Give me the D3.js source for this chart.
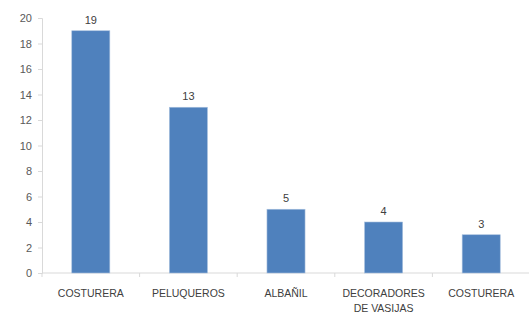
<!DOCTYPE html>
<meta charset="utf-8">
<script src="https://d3js.org/d3.v7.min.js"></script>
<style>
  body { margin: 0; background: #fff; }
  text { font-family: "Liberation Sans", Arial, sans-serif; }
</style>
<div id="chart"></div>
<script>
// data
var categories = ["COSTURERA", "PELUQUEROS", "ALBAÑIL", "DECORADORES|DE VASIJAS", "COSTURERA "];
var values = [19, 13, 5, 4, 3];
var yTicks = [0, 2, 4, 6, 8, 10, 12, 14, 16, 18, 20];

var width = 529, height = 315;
var plotLeft = 42, plotRight = 530, plotTop = 18, plotBottom = 273;

var svg = d3.select("#chart").append("svg")
    .attr("width", width)
    .attr("height", height);

var x = d3.scaleBand()
    .domain(categories)
    .range([plotLeft, plotRight])
    .paddingInner(0.61)
    .paddingOuter(0.305);

var y = d3.scaleLinear()
    .domain([0, 20])
    .range([plotBottom, plotTop]);

// y axis
var yAxis = d3.axisLeft(y).tickValues(yTicks).tickSize(4).tickPadding(6);
var gy = svg.append("g")
    .attr("transform", "translate(" + plotLeft + ",0)")
    .call(yAxis);
gy.select(".domain").attr("stroke", "#d9d9d9");
gy.selectAll(".tick line").attr("stroke", "#d9d9d9");
gy.selectAll(".tick text")
    .attr("fill", "#595959")
    .style("font-size", "11px");

// x axis line + ticks at band boundaries
svg.append("line")
    .attr("x1", plotLeft).attr("x2", plotRight)
    .attr("y1", plotBottom).attr("y2", plotBottom)
    .attr("stroke", "#d9d9d9");

var step = x.step();
svg.selectAll("xtick")
    .data(d3.range(categories.length + 1))
    .enter()
    .append("line")
      .attr("x1", function(i) { return plotLeft + i * step; })
      .attr("x2", function(i) { return plotLeft + i * step; })
      .attr("y1", plotBottom)
      .attr("y2", plotBottom + 4)
      .attr("stroke", "#d9d9d9");

// bars
svg.selectAll("bar")
    .data(values)
    .enter()
    .append("rect")
      .attr("x", function(d, i) { return x(categories[i]); })
      .attr("y", function(d) { return y(d); })
      .attr("width", x.bandwidth())
      .attr("height", function(d) { return plotBottom - y(d); })
      .attr("fill", "#4f81bd")
      .attr("stroke", "#a7c0de")
      .attr("stroke-width", 0.6);

// value labels
svg.selectAll("vlabel")
    .data(values)
    .enter()
    .append("text")
      .attr("x", function(d, i) { return x(categories[i]) + x.bandwidth() / 2; })
      .attr("y", function(d) { return y(d) - 7; })
      .attr("text-anchor", "middle")
      .attr("fill", "#404040")
      .style("font-size", "11px")
      .text(function(d) { return d; });

// category labels
var cl = svg.selectAll("clabel")
    .data(categories)
    .enter()
    .append("text")
      .attr("x", function(d) { return x(d) + x.bandwidth() / 2; })
      .attr("y", plotBottom + 24)
      .attr("text-anchor", "middle")
      .attr("fill", "#404040")
      .style("font-size", "10.5px");

cl.selectAll("tspan")
    .data(function(d) { return d.trim().split("|"); })
    .enter()
    .append("tspan")
      .attr("x", function() { return d3.select(this.parentNode).attr("x"); })
      .attr("dy", function(d, i) { return i === 0 ? 0 : 15; })
      .text(function(d) { return d; });
</script>
